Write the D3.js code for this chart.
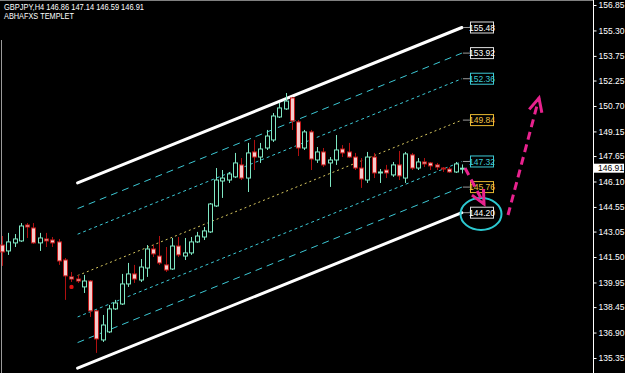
<!DOCTYPE html>
<html>
<head>
<meta charset="utf-8">
<script src="https://cdn.jsdelivr.net/npm/d3@7"></script>
<style>
  html, body { margin: 0; padding: 0; background: #000; }
  svg { display: block; font-family: "Liberation Sans", "DejaVu Sans", sans-serif; }
</style>
</head>
<body>
<div id="chart"></div>
<script>
// candle data, H4 bars, oldest first
var opens = [142.23, 141.87, 142.36, 142.48, 143.45, 143.27, 142.36, 142.60, 142.54, 142.42,
  141.32, 140.29, 140.16, 139.68, 140.04, 138.22, 136.45, 136.94, 138.34, 138.64,
  139.86, 140.47, 140.10, 140.83, 141.99, 141.56, 141.02, 140.77, 142.17, 141.56,
  141.75, 142.42, 142.72, 143.03, 144.61, 146.13, 146.19, 146.38, 147.11, 146.31,
  147.90, 147.59, 148.14, 148.63, 150.03, 150.52, 151.19, 149.73, 148.14, 149.12,
  147.41, 147.90, 147.23, 147.41, 148.08, 147.90, 147.59, 146.92, 146.19, 147.59,
  146.62, 146.80, 146.50, 147.11, 146.31, 147.72, 146.92, 147.29, 147.23, 147.11,
  146.92, 146.86, 146.68, 146.86];
var highs = [142.78, 142.97, 142.90, 143.57, 143.57, 143.57, 142.97, 142.97, 142.72, 142.60,
  141.44, 140.59, 140.41, 140.41, 140.10, 138.28, 137.97, 138.58, 138.89, 140.47,
  141.14, 141.02, 141.38, 142.23, 142.23, 142.78, 142.11, 142.66, 142.72, 142.66,
  142.72, 143.03, 143.33, 144.79, 146.92, 146.80, 146.68, 147.84, 147.53, 148.45,
  148.63, 148.45, 149.24, 150.27, 150.88, 151.49, 151.25, 149.85, 149.24, 149.24,
  148.20, 148.14, 147.59, 148.93, 148.32, 148.45, 147.84, 147.53, 147.90, 147.84,
  146.86, 147.11, 147.29, 147.96, 147.90, 147.84, 147.53, 147.53, 147.29, 147.23,
  146.98, 146.98, 147.29, 147.14];
var lows = [140.96, 141.63, 142.11, 142.42, 142.66, 142.30, 141.87, 142.11, 142.11, 141.02,
  138.89, 139.98, 139.92, 139.31, 137.85, 135.66, 136.33, 136.87, 138.28, 138.58,
  139.68, 139.92, 139.98, 140.29, 141.50, 141.02, 140.59, 140.71, 141.50, 141.32,
  141.63, 142.36, 142.54, 142.97, 144.55, 145.10, 146.01, 146.31, 146.19, 145.46,
  146.80, 147.23, 148.02, 148.51, 149.97, 150.46, 149.24, 147.65, 148.02, 146.80,
  147.23, 146.98, 145.77, 147.11, 147.59, 147.53, 146.80, 145.71, 146.01, 146.31,
  146.01, 146.31, 146.38, 146.19, 146.01, 146.80, 146.80, 146.98, 146.80, 146.80,
  146.68, 146.62, 146.62, 146.59];
var closes = [141.81, 142.42, 142.60, 143.39, 143.33, 142.36, 142.66, 142.48, 142.36, 141.26,
  140.35, 140.16, 140.04, 140.04, 138.22, 136.51, 137.36, 138.34, 138.70, 139.86,
  140.47, 140.16, 140.89, 141.99, 141.69, 141.14, 140.71, 142.17, 141.63, 141.75,
  142.42, 142.78, 143.09, 144.73, 146.19, 146.31, 146.56, 147.23, 146.31, 147.84,
  147.59, 148.08, 148.87, 150.09, 150.58, 151.00, 149.79, 148.14, 149.12, 147.47,
  147.90, 147.11, 147.41, 148.02, 147.84, 147.59, 146.92, 146.25, 147.59, 146.62,
  146.68, 146.62, 147.11, 146.44, 147.78, 146.92, 147.29, 147.17, 147.05, 146.98,
  146.86, 146.68, 147.17, 146.91];

// right price scale
var priceTicks = [156.85, 155.30, 153.75, 152.25, 150.70, 149.15, 147.65, 146.10,
  144.55, 143.05, 141.50, 139.95, 138.45, 136.90, 135.35];
var lastPrice = 146.91;

// regression channel: start bar, end bar, mid values, offsets of the bands
var channelStart = 12, channelEnd = 73;
var channelMidStart = 140.37, channelMidEnd = 149.84;
var channelOffsets = [5.64, 4.08, 2.52, 0, -2.52, -4.08, -5.64];
var channelLabels = ["155.48", "153.92", "152.36", "149.84", "147.32", "145.76", "144.20"];

// fractal dot
var fractalBar = 11, fractalPrice = 139.68;

var header = ["GBPJPY,H4  146.86 147.14 146.59 146.91", "ABHAFXS TEMPLET"];

var width = 625, height = 373;

var svg = d3.select("#chart").append("svg")
  .attr("width", width)
  .attr("height", height);

svg.append("rect").attr("width", width).attr("height", height).attr("fill", "#000");

var x = d3.scaleLinear().domain([0, 73]).range([2, 461.9]);
var y = d3.scaleLinear().domain([135.35, 156.85]).range([358, 5]);

// frame lines
svg.append("line").attr("x1", 0).attr("x2", 593).attr("y1", 0.5).attr("y2", 0.5)
  .attr("stroke", "#808080").attr("stroke-width", 1);
svg.append("line").attr("x1", 593.5).attr("x2", 593.5).attr("y1", 0).attr("y2", height)
  .attr("stroke", "#fff").attr("stroke-width", 1);
svg.append("line").attr("x1", 1.5).attr("x2", 1.5).attr("y1", 40).attr("y2", height)
  .attr("stroke", "#9a9a9a").attr("stroke-width", 1);

// header text
svg.append("text").attr("x", 4).attr("y", 10)
  .attr("fill", "#fff").style("font-size", "8.5px")
  .attr("textLength", 140).attr("lengthAdjust", "spacingAndGlyphs")
  .text(header[0]);
svg.append("text").attr("x", 4).attr("y", 19)
  .attr("fill", "#fff").style("font-size", "8.5px")
  .attr("textLength", 70).attr("lengthAdjust", "spacingAndGlyphs")
  .text(header[1]);

// channel
var bandStyle = [
  { color: "#ffffff", width: 3, dash: null },
  { color: "#3cc8d4", width: 1, dash: "7,5" },
  { color: "#3cc8d4", width: 1, dash: "3,3" },
  { color: "#d8c860", width: 1, dash: "2,3" },
  { color: "#3cc8d4", width: 1, dash: "3,3" },
  { color: "#3cc8d4", width: 1, dash: "7,5" },
  { color: "#ffffff", width: 3, dash: null }
];
var labelStyle = [
  { stroke: "#e0e0e0", text: "#ffffff" },
  { stroke: "#e0e0e0", text: "#ffffff" },
  { stroke: "#3cc8d4", text: "#3cc8d4" },
  { stroke: "#e8b830", text: "#f0c040" },
  { stroke: "#3cc8d4", text: "#3cc8d4" },
  { stroke: "#e8b830", text: "#f0c040" },
  { stroke: "#e0e0e0", text: "#ffffff" }
];

var chan = svg.append("g").attr("class", "channel");
channelOffsets.forEach(function (off, i) {
  var st = bandStyle[i];
  var l = chan.append("line")
    .attr("x1", x(channelStart)).attr("y1", y(channelMidStart + off))
    .attr("x2", x(channelEnd)).attr("y2", y(channelMidEnd + off))
    .attr("stroke", st.color).attr("stroke-width", st.width)
    .attr("stroke-linecap", "round");
  if (st.dash) l.attr("stroke-dasharray", st.dash).attr("stroke-linecap", "butt");

  var ly = y(channelMidEnd + off);
  chan.append("line")
    .attr("x1", x(channelEnd) + 1).attr("x2", 471)
    .attr("y1", ly).attr("y2", ly)
    .attr("stroke", "#9a9a9a").attr("stroke-width", 1);
  chan.append("rect")
    .attr("x", 470.5).attr("y", ly - 5.5)
    .attr("width", 23).attr("height", 11)
    .attr("fill", "#000")
    .attr("stroke", labelStyle[i].stroke).attr("stroke-width", 1);
  chan.append("text")
    .attr("x", 482).attr("y", ly + 3.3)
    .attr("text-anchor", "middle")
    .attr("fill", labelStyle[i].text)
    .style("font-size", "8.5px")
    .text(channelLabels[i]);
});

// candles
var candles = opens.map(function (o, i) {
  return { i: i, o: o, h: highs[i], l: lows[i], c: closes[i] };
});

var cg = svg.append("g").attr("class", "candles");
cg.selectAll("line.wick").data(candles).enter().append("line")
  .attr("class", "wick")
  .attr("x1", function (d) { return Math.round(x(d.i)) + 0.5; })
  .attr("x2", function (d) { return Math.round(x(d.i)) + 0.5; })
  .attr("y1", function (d) { return y(d.h); })
  .attr("y2", function (d) { return y(d.l); })
  .attr("stroke", function (d) { return d.c >= d.o ? "#7fe8c4" : "#b01010"; })
  .attr("stroke-width", 1);

cg.selectAll("rect.body").data(candles).enter().append("rect")
  .attr("class", "body")
  .attr("x", function (d) { return Math.round(x(d.i)) - 1.5; })
  .attr("y", function (d) { return y(Math.max(d.o, d.c)); })
  .attr("width", 4)
  .attr("height", function (d) { return Math.max(1, Math.abs(y(d.o) - y(d.c))); })
  .attr("fill", function (d) { return d.c >= d.o ? "#000" : "#f6caca"; })
  .attr("stroke", function (d) { return d.c >= d.o ? "#7fe8c4" : "#c01818"; })
  .attr("stroke-width", 1);

svg.append("circle")
  .attr("cx", Math.round(x(fractalBar)) + 0.5).attr("cy", y(fractalPrice))
  .attr("r", 2.2).attr("fill", "#e01010");

// price axis
var axis = svg.append("g")
  .attr("transform", "translate(593.5,0)")
  .call(d3.axisRight(y).tickValues(priceTicks)
    .tickFormat(d3.format(".2f")).tickSize(3).tickPadding(2));
axis.select(".domain").remove();
axis.selectAll("line").attr("stroke", "#fff");
axis.selectAll("text").attr("fill", "#fff")
  .style("font-size", "8.5px")
  .style("font-family", "Liberation Sans, DejaVu Sans, sans-serif");

// current price tag
svg.append("rect")
  .attr("x", 593).attr("y", y(lastPrice) - 4.5)
  .attr("width", 31).attr("height", 9)
  .attr("fill", "#fff");
svg.append("text")
  .attr("x", 598).attr("y", y(lastPrice) + 3)
  .attr("fill", "#000").style("font-size", "8.5px")
  .text(lastPrice.toFixed(2));

// hand-drawn projection arrows and circle
var pink = "#e8228e";
var ann = svg.append("g").attr("class", "annotations");

ann.append("ellipse")
  .attr("cx", 481).attr("cy", 214)
  .attr("rx", 20.5).attr("ry", 16)
  .attr("fill", "none").attr("stroke", "#2cc8d0").attr("stroke-width", 2);

function arrow(x1, y1, x2, y2) {
  ann.append("line")
    .attr("x1", x1).attr("y1", y1).attr("x2", x2).attr("y2", y2)
    .attr("stroke", pink).attr("stroke-width", 3)
    .attr("stroke-dasharray", "8,5");
  var ang = Math.atan2(y2 - y1, x2 - x1);
  var len = 15, spread = 0.45;
  var pts = [
    [x2 - len * Math.cos(ang - spread), y2 - len * Math.sin(ang - spread)],
    [x2, y2],
    [x2 - len * Math.cos(ang + spread), y2 - len * Math.sin(ang + spread)]
  ];
  ann.append("path")
    .attr("d", d3.line()(pts))
    .attr("fill", "none").attr("stroke", pink).attr("stroke-width", 3)
    .attr("stroke-linejoin", "miter");
}
arrow(465, 168, 484, 204);
arrow(508, 215, 539, 98);
</script>
</body>
</html>
